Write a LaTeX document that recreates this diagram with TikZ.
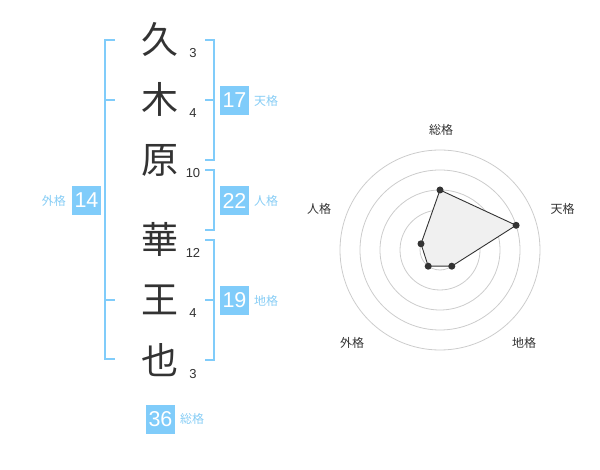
\documentclass[tikz,border=0pt]{standalone}
\usepackage{fontspec}
\setmainfont{Liberation Sans}
\newfontfamily\cjk{Noto Sans CJK JP}
\definecolor{skyb}{RGB}{128,204,250}
\definecolor{skyt}{RGB}{135,205,245}
\definecolor{ink}{RGB}{51,51,51}
\definecolor{ringc}{RGB}{204,204,204}
\definecolor{polyf}{RGB}{240,240,240}
\begin{document}
\begin{tikzpicture}[x=1pt,y=-1pt,
  kanji/.style={anchor=base,inner sep=0pt,text=ink,font=\cjk\fontsize{37}{37}\selectfont},
  strokes/.style={anchor=base,inner sep=0pt,text=ink,font=\fontsize{13}{13}\selectfont},
  valbox/.style={fill=skyb,minimum width=29pt,minimum height=29pt,inner sep=0pt,text=white,font=\fontsize{21.5}{21.5}\selectfont},
  kaku/.style={inner sep=0pt,text=skyt,font=\cjk\fontsize{12}{12}\selectfont},
  radlab/.style={inner sep=0pt,text=ink,font=\cjk\fontsize{12}{12}\selectfont},
  brk/.style={draw=skyb,line width=2pt},
  ring/.style={draw=ringc,line width=0.8pt},
  dot/.style={circle,fill=ink,inner sep=0pt,minimum size=7pt}]
\useasboundingbox (0,0) rectangle (600,470);

% characters
\node[kanji] (c1) at (160,54) {久};
\node[kanji] (c2) at (160,114) {木};
\node[kanji] (c3) at (160,174) {原};
\node[kanji] (c4) at (160,254) {華};
\node[kanji] (c5) at (160,314) {王};
\node[kanji] (c6) at (160,374) {也};

% stroke counts
\node[strokes] (s1) at (193,58) {3};
\node[strokes] (s2) at (193,118) {4};
\node[strokes] (s3) at (193,178) {10};
\node[strokes] (s4) at (193,257.5) {12};
\node[strokes] (s5) at (193,318) {4};
\node[strokes] (s6) at (193,378) {3};

% brackets
\draw[brk] (115,40) -- (105,40) -- (105,359) -- (115,359);
\draw[brk] (105,100) -- (115,100);
\draw[brk] (105,300) -- (115,300);
\draw[brk] (205,40) -- (214,40) -- (214,160) -- (205,160);
\draw[brk] (205,100) -- (214,100);
\draw[brk] (205,170) -- (214,170) -- (214,230) -- (205,230);
\draw[brk] (205,240) -- (214,240) -- (214,360) -- (205,360);
\draw[brk] (205,300) -- (214,300);

% values
\node[valbox] (ten) at (234.5,100.5) {17};
\node[kaku,anchor=west] (tenl) at (254,100.5) {天格};
\node[valbox] (jin) at (234.5,200.5) {22};
\node[kaku,anchor=west] (jinl) at (254,200.5) {人格};
\node[valbox] (chi) at (234.5,300.5) {19};
\node[kaku,anchor=west] (chil) at (254,300.5) {地格};
\node[valbox] (gai) at (86.5,200.5) {14};
\node[kaku,anchor=east] (gail) at (66,200.5) {外格};
\node[valbox] (sou) at (160.5,419) {36};
\node[kaku,anchor=west] (soul) at (180,419) {総格};

% radar
\coordinate (O) at (440,250);
\foreach \r in {20,40,60,80,100} \draw[ring] (O) circle (\r);
\fill[ringc] (O) circle (3.5);
\path (O) ++(0,-60) coordinate (pS);
\path (O) ++(76.1,-24.7) coordinate (pT);
\path (O) ++(11.8,16.2) coordinate (pC);
\path (O) ++(-11.8,16.2) coordinate (pG);
\path (O) ++(-19.0,-6.2) coordinate (pJ);
\draw[fill=polyf,draw=ink,line width=0.9pt] (pS) -- (pT) -- (pC) -- (pG) -- (pJ) -- cycle;
\foreach \p in {pS,pT,pC,pG,pJ} \node[dot] at (\p) {};
\node[radlab] (rS) at (441,130) {総格};
\node[radlab] (rT) at (562.5,208.5) {天格};
\node[radlab] (rJ) at (319,208.5) {人格};
\node[radlab] (rG) at (352,342.5) {外格};
\node[radlab] (rC) at (524,342.5) {地格};
\end{tikzpicture}
\end{document}
